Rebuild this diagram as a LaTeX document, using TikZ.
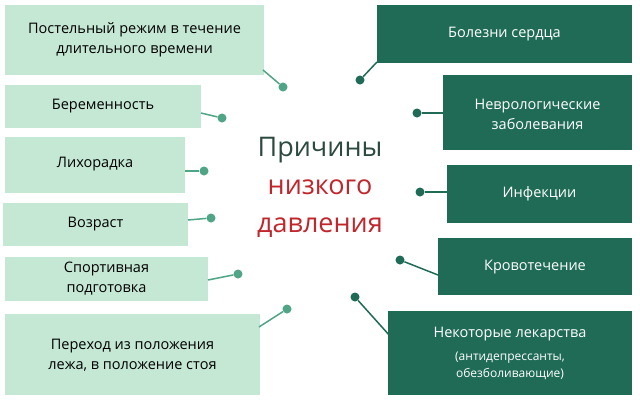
\documentclass[tikz,border=0pt]{standalone}
\usepackage{fontspec}
\setmainfont{Open Sans}
\begin{document}
\begin{tikzpicture}[x=1pt,y=-1pt,
 lbox/.style={fill=lightg,draw=none,inner sep=0pt},
 dbox/.style={fill=darkg,draw=none,inner sep=0pt},
 ltxt/.style={text=black,align=center,font=\fontsize{14.5}{20}\selectfont},
 dtxt/.style={text=white,align=center,font=\fontsize{14.5}{20}\selectfont},
 ldot/.style={circle,fill=dotl,inner sep=0pt,minimum size=9pt},
 ddot/.style={circle,fill=darkg,inner sep=0pt,minimum size=9pt},
 lline/.style={draw=dotl,line width=1.5pt},
 dline/.style={draw=darkg,line width=1.5pt}]
\definecolor{lightg}{HTML}{C4E8D4}
\definecolor{darkg}{HTML}{1F6B56}
\definecolor{dotl}{HTML}{4FA585}
\definecolor{ttl}{HTML}{2D4A40}
\definecolor{ttr}{HTML}{C0262C}
\useasboundingbox (0,0) rectangle (640,400);
\fill[white] (0,0) rectangle (640,400);
% left boxes
\path[lbox] (5,5) rectangle (264,75); \node[ltxt] (l1) at (134.5,40) {Постельный режим в течение\\длительного времени};
\path[lbox] (5,85) rectangle (201,128); \node[ltxt] (l2) at (103,106) {Беременность};
\path[lbox] (5,137) rectangle (185,193); \node[ltxt] (l3) at (95,164) {Лихорадка};
\path[lbox] (3,203) rectangle (188,246); \node[ltxt] (l4) at (95.5,224) {Возраст};
\path[lbox] (5,257) rectangle (208,301); \node[ltxt] (l5) at (106.5,279) {Спортивная\\подготовка};
\path[lbox] (5,314) rectangle (260,395); \node[ltxt] (l6) at (132.5,355) {Переход из положения\\лежа, в положение стоя};
% right boxes
\path[dbox] (377,5) rectangle (632,63); \node[dtxt] (r1) at (504.5,34) {Болезни сердца};
\path[dbox] (443,75) rectangle (632,150); \node[dtxt] (r2) at (537.5,114) {Неврологические\\заболевания};
\path[dbox] (447,165) rectangle (632,223); \node[dtxt] (r3) at (539.5,194) {Инфекции};
\path[dbox] (438,238) rectangle (632,295); \node[dtxt] (r4) at (535,267) {Кровотечение};
\path[dbox] (388,311) rectangle (632,395); \node[dtxt] (r5) at (510,334) {Некоторые лекарства};
\node[dtxt,font=\fontsize{12}{17}\selectfont] (r5b) at (510,366) {(антидепрессанты,\\обезболивающие)};
% connector anchors and dots
\coordinate (a1) at (263,70); \node[ldot] (d1) at (283,87) {};
\coordinate (a2) at (201,113); \node[ldot] (d2) at (222,118) {};
\coordinate (a3) at (185,171); \node[ldot] (d3) at (204,171) {};
\coordinate (a4) at (188,220); \node[ldot] (d4) at (211,218) {};
\coordinate (a5) at (208,280); \node[ldot] (d5) at (238,274) {};
\coordinate (a6) at (259,327); \node[ldot] (d6) at (287,309) {};
\draw[lline] (a1)--(d1); \draw[lline] (a2)--(d2); \draw[lline] (a3)--(d3);
\draw[lline] (a4)--(d4); \draw[lline] (a5)--(d5); \draw[lline] (a6)--(d6);
\coordinate (b1) at (377,62); \node[ddot] (e1) at (360,80) {};
\coordinate (b2) at (443,113); \node[ddot] (e2) at (417,113) {};
\coordinate (b3) at (447,192); \node[ddot] (e3) at (420,192) {};
\coordinate (b4) at (438,275); \node[ddot] (e4) at (400,260) {};
\coordinate (b5) at (390,336); \node[ddot] (e5) at (355,297) {};
\draw[dline] (b1)--(e1); \draw[dline] (b2)--(e2); \draw[dline] (b3)--(e3);
\draw[dline] (b4)--(e4); \draw[dline] (b5)--(e5);
% title
\node[align=center,font=\fontsize{27}{38}\selectfont] (t) at (320,187)
 {\textcolor{ttl}{Причины}\\\textcolor{ttr}{низкого}\\\textcolor{ttr}{давления}};
\end{tikzpicture}
\end{document}
